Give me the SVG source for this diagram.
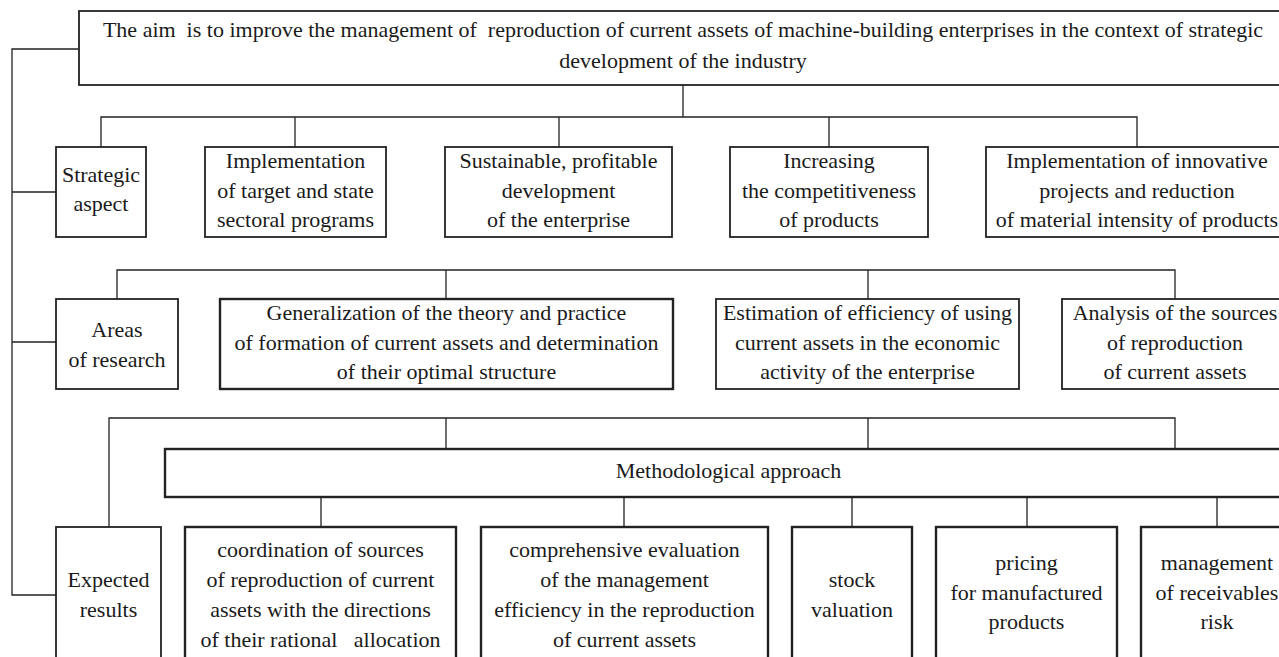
<svg xmlns="http://www.w3.org/2000/svg" width="1279" height="657" viewBox="0 0 1279 657">
<style>
.box{fill:#fff;stroke:#222;stroke-width:1.8}
.thick{stroke-width:2.4}
.ln{fill:none;stroke:#222;stroke-width:1.3}
.t{font-family:"Liberation Serif","Times New Roman",serif;font-size:22px;fill:#1a1a1a;text-anchor:middle}
</style>
<rect width="1279" height="657" fill="#fff"/>
<g id="connectors">
<path class="ln" d="M79,49 H12 V595 H56 M12,192 H56 M12,342 H56"/>
<path class="ln" d="M683,85 V117 M101,147 V117 H1137 V147 M295,117 V147 M559,117 V147 M829,117 V147"/>
<path class="ln" d="M117,299 V270 H1175 V299 M446,270 V299 M868,270 V299"/>
<path class="ln" d="M109,527 V418 H1175 V449 M446,418 V449 M868,418 V449"/>
<path class="ln" d="M321,497 V527 M624,497 V527 M852,497 V527 M1027,497 V527 M1217,497 V527"/>
</g>
<g id="aim">
<rect class="box" x="79" y="11" width="1210" height="74"/>
<text class="t" x="683" y="37" xml:space="preserve">The aim  is to improve the management of  reproduction of current assets of machine-building enterprises in the context of strategic</text>
<text class="t" x="683" y="68">development of the industry</text>
</g>
<g id="strategic">
<rect class="box" x="56" y="147" width="90" height="90"/>
<text class="t" x="101" y="182">Strategic</text>
<text class="t" x="101" y="211">aspect</text>
</g>
<g id="target">
<rect class="box" x="205" y="147" width="181" height="90"/>
<text class="t" x="295.5" y="168">Implementation</text>
<text class="t" x="295.5" y="197.5">of target and state</text>
<text class="t" x="295.5" y="227">sectoral programs</text>
</g>
<g id="sustainable">
<rect class="box" x="445" y="147" width="227" height="90"/>
<text class="t" x="558.5" y="168">Sustainable, profitable</text>
<text class="t" x="558.5" y="197.5">development</text>
<text class="t" x="558.5" y="227">of the enterprise</text>
</g>
<g id="competitiveness">
<rect class="box" x="730" y="147" width="198" height="90"/>
<text class="t" x="829" y="168">Increasing</text>
<text class="t" x="829" y="197.5">the competitiveness</text>
<text class="t" x="829" y="227">of products</text>
</g>
<g id="innovative">
<rect class="box" x="986" y="147" width="310" height="90"/>
<text class="t" x="1137" y="168">Implementation of innovative</text>
<text class="t" x="1137" y="197.5">projects and reduction</text>
<text class="t" x="1137" y="227">of material intensity of products</text>
</g>
<g id="areas">
<rect class="box" x="56" y="299" width="122" height="90"/>
<text class="t" x="117" y="337">Areas</text>
<text class="t" x="117" y="367">of research</text>
</g>
<g id="generalization">
<rect class="box thick" x="220" y="299" width="453" height="90"/>
<text class="t" x="446.5" y="320">Generalization of the theory and practice</text>
<text class="t" x="446.5" y="350">of formation of current assets and determination</text>
<text class="t" x="446.5" y="379">of their optimal structure</text>
</g>
<g id="estimation">
<rect class="box" x="716" y="299" width="303" height="90"/>
<text class="t" x="867.5" y="320">Estimation of efficiency of using</text>
<text class="t" x="867.5" y="350">current assets in the economic</text>
<text class="t" x="867.5" y="379">activity of the enterprise</text>
</g>
<g id="analysis">
<rect class="box" x="1062" y="299" width="240" height="90"/>
<text class="t" x="1175" y="320">Analysis of the sources</text>
<text class="t" x="1175" y="350">of reproduction</text>
<text class="t" x="1175" y="379">of current assets</text>
</g>
<g id="methodological">
<rect class="box thick" x="165" y="449" width="1140" height="48"/>
<text class="t" x="728.5" y="478">Methodological approach</text>
</g>
<g id="expected">
<rect class="box" x="56" y="527" width="105" height="140"/>
<text class="t" x="108.5" y="587">Expected</text>
<text class="t" x="108.5" y="617">results</text>
</g>
<g id="coordination">
<rect class="box thick" x="185" y="527" width="271" height="140"/>
<text class="t" x="320.5" y="557">coordination of sources</text>
<text class="t" x="320.5" y="587">of reproduction of current</text>
<text class="t" x="320.5" y="617">assets with the directions</text>
<text class="t" x="320.5" y="647" xml:space="preserve">of their rational   allocation</text>
</g>
<g id="comprehensive">
<rect class="box thick" x="481" y="527" width="287" height="140"/>
<text class="t" x="624.5" y="557">comprehensive evaluation</text>
<text class="t" x="624.5" y="587">of the management</text>
<text class="t" x="624.5" y="617">efficiency in the reproduction</text>
<text class="t" x="624.5" y="647">of current assets</text>
</g>
<g id="stock">
<rect class="box thick" x="792" y="527" width="120" height="140"/>
<text class="t" x="852" y="587">stock</text>
<text class="t" x="852" y="617">valuation</text>
</g>
<g id="pricing">
<rect class="box thick" x="936" y="527" width="181" height="140"/>
<text class="t" x="1026.5" y="570">pricing</text>
<text class="t" x="1026.5" y="600">for manufactured</text>
<text class="t" x="1026.5" y="629">products</text>
</g>
<g id="receivables">
<rect class="box thick" x="1141" y="527" width="152" height="140"/>
<text class="t" x="1217" y="570">management</text>
<text class="t" x="1217" y="600">of receivables</text>
<text class="t" x="1217" y="629">risk</text>
</g>
</svg>
